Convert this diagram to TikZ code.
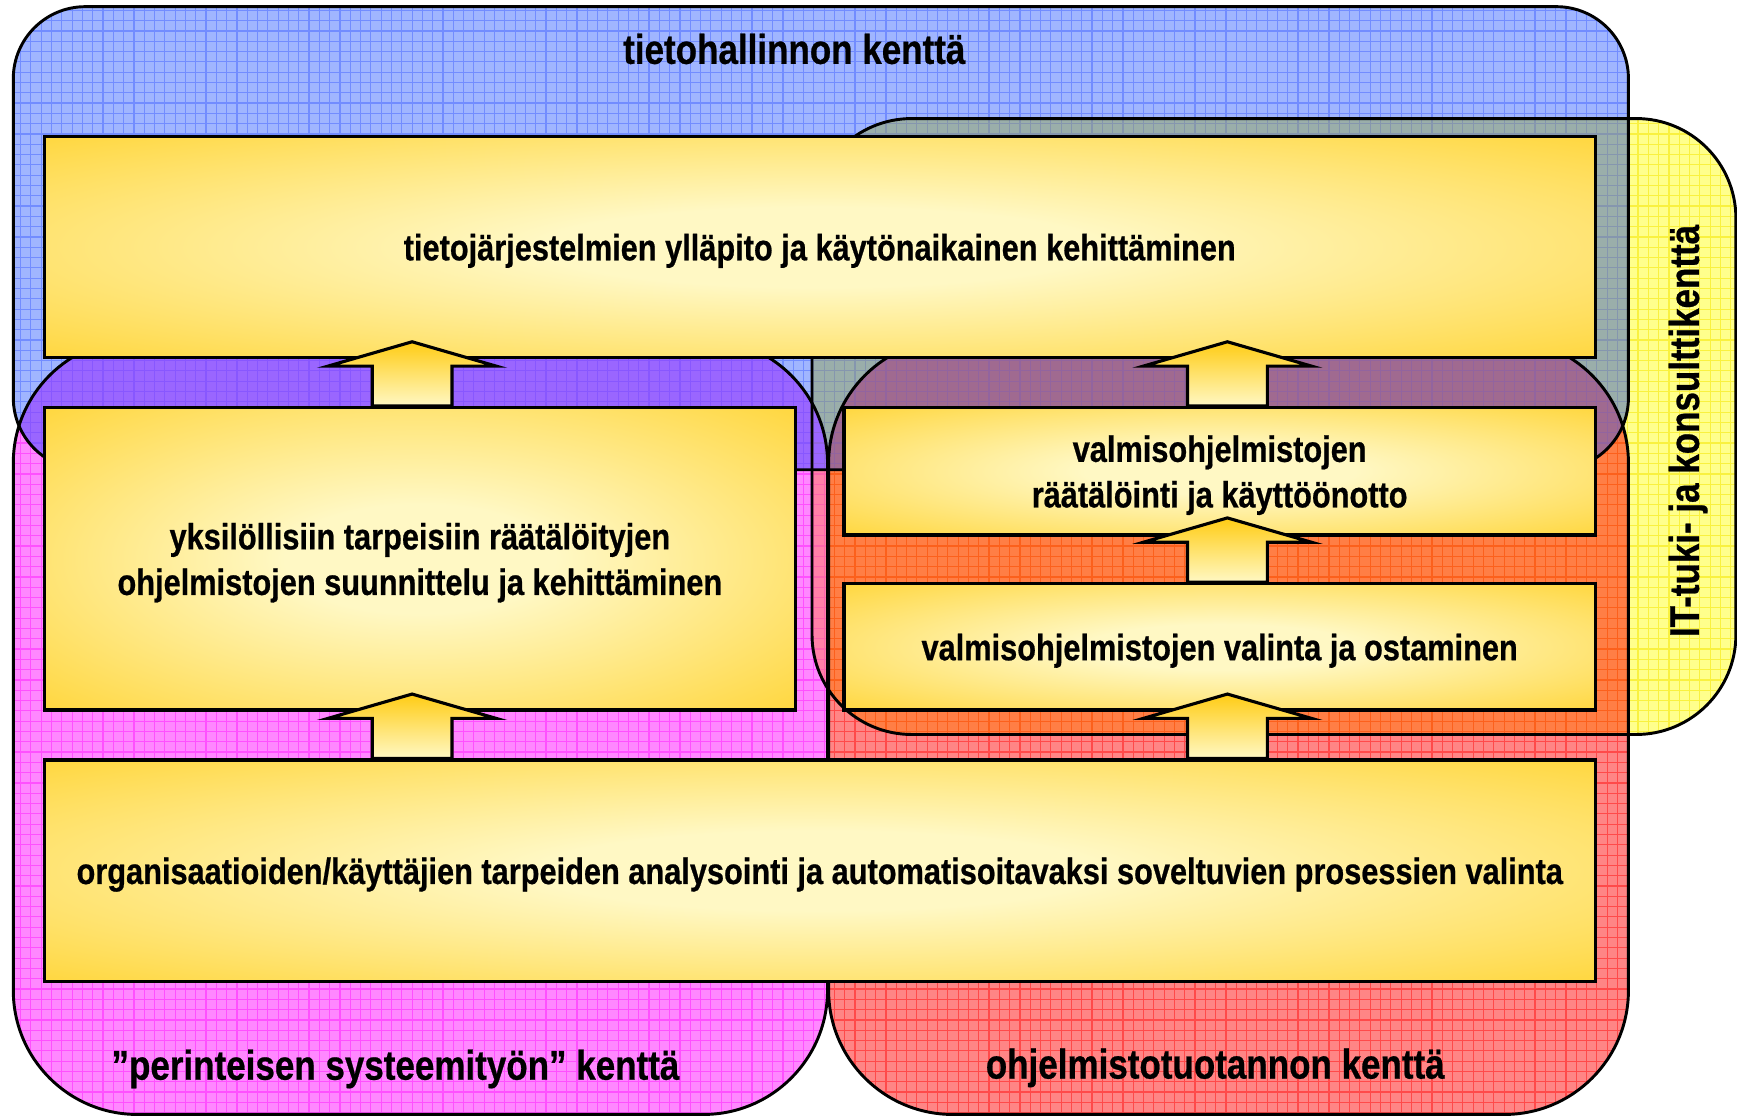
\documentclass[tikz,border=0pt]{standalone}
\usepackage{fontspec}
\setmainfont{Liberation Sans}[FakeStretch=0.84, FakeBold=0.6]
\usetikzlibrary{calc}
\definecolor{yelB}{HTML}{FFFF8C}
\definecolor{pinkB}{HTML}{FF88FF}
\definecolor{redB}{HTML}{FF8585}
\definecolor{pinkY}{HTML}{FF80A8}
\definecolor{redY}{HTML}{FF7E45}
\definecolor{blueB}{HTML}{A0B5FF}
\definecolor{blueY}{HTML}{9AAEAA}
\definecolor{blueP}{HTML}{9A66FF}
\definecolor{blueR}{HTML}{A06A90}
\definecolor{yelG}{HTML}{F5E600}
\definecolor{pinkG}{HTML}{FF22FF}
\definecolor{redG}{HTML}{FF1A1A}
\definecolor{blueG}{HTML}{4D6BFF}
\definecolor{gold}{HTML}{FFCC14}
\definecolor{cream}{HTML}{FFF8C4}
\pgfdeclareradialshading{boxglow}{\pgfpoint{0bp}{0bp}}{color(0bp)=(cream); color(9bp)=(cream); color(44bp)=(gold); color(80bp)=(gold)}
\tikzset{
  regionline/.style={draw=black, line width=0.75pt},
  gridl/.style={line width=0.3pt, opacity=0.55, step=0.93mm},
  box/.style={shade, shading=boxglow, draw=black, line width=0.85pt, align=center, inner sep=0pt,
    text depth=0pt, font=\fontsize{9.4}{11.7}\selectfont\bfseries},
  barrow/.style={draw=black, line width=0.8pt, top color=gold, bottom color=cream, line join=miter},
  lbl/.style={inner sep=0pt, text depth=0pt, font=\fontsize{10.7}{12}\selectfont\bfseries}
}
\begin{document}
\begin{tikzpicture}[x=0.1mm, y=-0.1mm]
\useasboundingbox (0,0) rectangle (1568,1008);
% base fills
\fill[yelB, rounded corners=9mm] (733,107) rectangle (1567,663);
\fill[pinkB, rounded corners=11.2mm] (12,306) rectangle (747,1006);
\fill[redB, rounded corners=11.2mm] (748,306) rectangle (1470,1006);
\begin{scope}
  \clip[rounded corners=9mm] (733,107) rectangle (1567,663);
  \fill[pinkY, rounded corners=11.2mm] (12,306) rectangle (747,1006);
  \fill[redY, rounded corners=11.2mm] (748,306) rectangle (1470,1006);
\end{scope}
\fill[blueB, rounded corners=6.5mm] (12,6) rectangle (1470,424);
\begin{scope}
  \clip[rounded corners=6.5mm] (12,6) rectangle (1470,424);
  \fill[blueY, rounded corners=9mm] (733,107) rectangle (1567,663);
  \fill[blueP, rounded corners=11.2mm] (12,306) rectangle (747,1006);
  \fill[blueR, rounded corners=11.2mm] (748,306) rectangle (1470,1006);
\end{scope}
% grids
\begin{scope}
  \clip[rounded corners=9mm] (733,107) rectangle (1567,663);
  \draw[gridl, yelG] (0,0) grid (1568,1008);
\end{scope}
\begin{scope}
  \clip[rounded corners=11.2mm] (12,306) rectangle (747,1006);
  \draw[gridl, pinkG] (0,0) grid (1568,1008);
\end{scope}
\begin{scope}
  \clip[rounded corners=11.2mm] (748,306) rectangle (1470,1006);
  \draw[gridl, redG] (0,0) grid (1568,1008);
\end{scope}
\begin{scope}
  \clip[rounded corners=6.5mm] (12,6) rectangle (1470,424);
  \draw[gridl, blueG] (0,0) grid (1568,1008);
\end{scope}
% outlines
\draw[regionline, rounded corners=9mm] (733,107) rectangle (1567,663);
\draw[regionline, rounded corners=11.2mm] (12,306) rectangle (747,1006);
\draw[regionline, rounded corners=11.2mm] (748,306) rectangle (1470,1006);
\draw[regionline, rounded corners=6.5mm] (12,6) rectangle (1470,424);
% region labels
\node[lbl] (tl) at (717,44) {tietohallinnon kenttä};
\node[lbl] (pl) at (357,961) {”perinteisen systeemityön” kenttä};
\node[lbl] (ol) at (1097,960) {ohjelmistotuotannon kenttä};
\node[lbl, rotate=90] (il) at (1520,389) {IT-tuki- ja konsulttikenttä};
% boxes
\node[box, minimum width=140mm, minimum height=20mm] (T) at (740,223)
  {tietojärjestelmien ylläpito ja käytönaikainen kehittäminen};
\node[box, minimum width=67.8mm, minimum height=27.3mm] (L) at (379,504.5)
  {yksilöllisiin tarpeisiin räätälöityjen\\ohjelmistojen suunnittelu ja kehittäminen};
\node[box, minimum width=67.8mm, minimum height=11.5mm] (RU) at (1101,425.5)
  {valmisohjelmistojen\\räätälöinti ja käyttöönotto};
\node[box, minimum width=67.8mm, minimum height=11.4mm] (RL) at (1101,584)
  {valmisohjelmistojen valinta ja ostaminen};
\node[box, minimum width=140mm, minimum height=20mm] (B) at (740,786)
  {organisaatioiden/käyttäjien tarpeiden analysointi ja automatisoitavaksi soveltuvien prosessien valinta};
% block arrows
\coordinate (ax1) at (372,0);
\coordinate (ax2) at (1108,0);
\foreach \lowbox/\ax in {L/ax1, RU/ax2, RL/ax2, B/ax1, B/ax2}{
  \begin{scope}[shift={(\lowbox.north -| \ax)}]
    \draw[barrow] (-36,0) -- (-36,-36) -- (-76,-36) -- (0,-58) -- (76,-36) -- (36,-36) -- (36,0) -- cycle;
  \end{scope}
}
\end{tikzpicture}
\end{document}
